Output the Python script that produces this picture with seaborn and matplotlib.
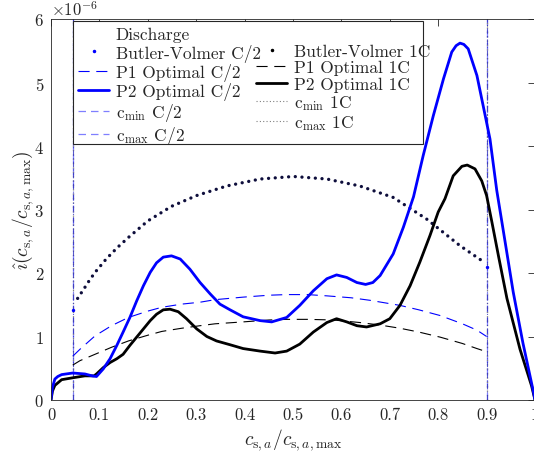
import numpy as np
import pandas as pd
import matplotlib
matplotlib.use('Agg')
import matplotlib.pyplot as plt
import seaborn as sns
from matplotlib.lines import Line2D
from matplotlib.patches import Rectangle
from matplotlib.ticker import FuncFormatter

# ---------------- data (values in units of 1e-6) ----------------
p2_half_x = [0, 0.003, 0.008, 0.014, 0.022, 0.045, 0.07, 0.085, 0.094, 0.108, 0.122, 0.136,
             0.149, 0.163, 0.177, 0.191, 0.205, 0.218, 0.232, 0.249, 0.267, 0.287, 0.308,
             0.329, 0.349, 0.370, 0.397, 0.432, 0.456, 0.487, 0.514, 0.542, 0.57, 0.59,
             0.611, 0.632, 0.65, 0.665, 0.68, 0.707, 0.728, 0.749, 0.769, 0.79, 0.811,
             0.828, 0.837, 0.845, 0.853, 0.862, 0.88, 0.893, 0.907, 0.921, 0.934, 0.955,
             0.975, 0.997, 1.0]
p2_half_y = [0, 0.2, 0.33, 0.37, 0.40, 0.425, 0.41, 0.38, 0.37, 0.49, 0.65, 0.86,
             1.07, 1.30, 1.56, 1.80, 2.01, 2.16, 2.25, 2.27, 2.22, 2.06, 1.85,
             1.67, 1.51, 1.42, 1.31, 1.25, 1.23, 1.30, 1.49, 1.72, 1.91, 1.97,
             1.93, 1.85, 1.82, 1.85, 1.96, 2.30, 2.72, 3.20, 3.85, 4.48, 5.06,
             5.48, 5.58, 5.62, 5.60, 5.53, 5.11, 4.63, 4.11, 3.30, 2.69, 1.70,
             0.90, 0.12, 0]

p2_one_x = [0, 0.003, 0.008, 0.022, 0.045, 0.07, 0.089, 0.094, 0.108, 0.122, 0.136, 0.149,
            0.163, 0.177, 0.191, 0.205, 0.218, 0.232, 0.246, 0.263, 0.28, 0.301, 0.322,
            0.342, 0.37, 0.397, 0.432, 0.463, 0.487, 0.514, 0.542, 0.57, 0.59, 0.611,
            0.632, 0.652, 0.68, 0.70, 0.721, 0.742, 0.762, 0.783, 0.80, 0.814, 0.831,
            0.849, 0.86, 0.876, 0.89, 0.90, 0.911, 0.925, 0.942, 0.969, 0.993, 1.0]
p2_one_y = [0, 0.14, 0.23, 0.32, 0.35, 0.38, 0.38, 0.41, 0.51, 0.59, 0.65, 0.72,
            0.86, 0.99, 1.12, 1.25, 1.35, 1.42, 1.43, 1.39, 1.28, 1.12, 1.00,
            0.93, 0.87, 0.81, 0.77, 0.74, 0.77, 0.88, 1.07, 1.22, 1.28, 1.23,
            1.17, 1.15, 1.20, 1.28, 1.49, 1.80, 2.17, 2.59, 2.96, 3.17, 3.53,
            3.68, 3.70, 3.64, 3.45, 3.22, 2.80, 2.25, 1.60, 0.80, 0.22, 0]

p1_half_x = [0.045, 0.06, 0.091, 0.125, 0.16, 0.2, 0.229, 0.27, 0.308, 0.339, 0.397, 0.45,
             0.487, 0.53, 0.57, 0.62, 0.659, 0.721, 0.76, 0.804, 0.85, 0.88, 0.9]
p1_half_y = [0.69, 0.80, 1.01, 1.17, 1.30, 1.40, 1.46, 1.51, 1.54, 1.58, 1.62, 1.65,
             1.66, 1.66, 1.64, 1.61, 1.57, 1.49, 1.42, 1.33, 1.20, 1.10, 1.00]

p1_one_x = [0.045, 0.06, 0.091, 0.125, 0.16, 0.2, 0.229, 0.27, 0.308, 0.339, 0.397, 0.45,
            0.487, 0.53, 0.583, 0.638, 0.68, 0.721, 0.76, 0.804, 0.85, 0.88, 0.9]
p1_one_y = [0.55, 0.62, 0.72, 0.83, 0.93, 1.02, 1.08, 1.13, 1.17, 1.20, 1.23, 1.26,
            1.27, 1.27, 1.26, 1.22, 1.18, 1.13, 1.07, 0.99, 0.89, 0.81, 0.76]

bv_one_x = [0.055, 0.068, 0.079, 0.091, 0.114, 0.137, 0.16, 0.2, 0.249, 0.301, 0.363,
            0.432, 0.501, 0.57, 0.638, 0.707, 0.776, 0.845, 0.893]
bv_one_y = [1.60, 1.75, 1.88, 2.01, 2.22, 2.40, 2.56, 2.82, 3.05, 3.22, 3.37,
            3.48, 3.52, 3.48, 3.37, 3.19, 2.85, 2.43, 2.18]

bv_half_x = [0.045, 0.9]
bv_half_y = [1.42, 2.09]

c_min = 0.045
c_max = 0.9

x_ticks = [0, 0.1, 0.2, 0.3, 0.4, 0.5, 0.6, 0.7, 0.8, 0.9, 1.0]
y_ticks = [0, 1, 2, 3, 4, 5, 6]
SCALE = 1e-6

legend_left = ['Discharge', 'Butler-Volmer C/2', 'P1 Optimal C/2', 'P2 Optimal C/2',
               r'c$_{\mathrm{min}}$ C/2', r'c$_{\mathrm{max}}$ C/2']
legend_right = [' ', 'Butler-Volmer 1C', 'P1 Optimal 1C', 'P2 Optimal 1C',
                r'c$_{\mathrm{min}}$ 1C', r'c$_{\mathrm{max}}$ 1C']

# ---------------- style ----------------
sns.set_style('white')
plt.rcParams.update({
    'font.family': 'serif',
    'font.serif': ['cmr10'],
    'mathtext.fontset': 'cm',
    'axes.formatter.use_mathtext': True,
})

W, H = 534, 460
fig = plt.figure(figsize=(W / 100, H / 100), dpi=100)
ax = fig.add_axes([51 / W, 59 / H, 484 / W, 381 / H])

BLUE = '#0000ff'
LIGHTBLUE = '#7f7fff'
DOTGRAY = '#808080'
NAVY = '#0e0e3c'


def line(xs, ys, color, lw, dashes=None, cap='butt'):
    df = pd.DataFrame({'x': xs, 'y': np.array(ys) * SCALE})
    sns.lineplot(data=df, x='x', y='y', ax=ax, color=color, linewidth=lw,
                 estimator=None, sort=False)
    ln = ax.lines[-1]
    if dashes is not None:
        ln.set_dashes(dashes)
    ln.set_dash_capstyle(cap)
    ln.set_solid_joinstyle('round')
    return ln

# vertical c_min / c_max lines
for xv in (c_min, c_max):
    ax.axvline(xv, color=LIGHTBLUE, lw=0.9, dashes=(6, 4))
    ax.axvline(xv, color=DOTGRAY, lw=0.9, dashes=(1, 2.5))
for xv in (c_min, c_max):
    ax.axvline(xv, color='#3030c0', lw=0.8, dashes=(5, 2, 1, 2), alpha=0.8)

line(p1_half_x, p1_half_y, BLUE, 0.8, dashes=(10, 6))
line(p1_one_x, p1_one_y, 'black', 0.8, dashes=(10, 6))
line(bv_one_x, bv_one_y, NAVY, 2.4, dashes=(0.01, 2.0), cap='round')
line(p2_one_x, p2_one_y, 'black', 2.0)
line(p2_half_x, p2_half_y, BLUE, 2.0)

bvh = pd.DataFrame({'x': bv_half_x, 'y': np.array(bv_half_y) * SCALE})
sns.scatterplot(data=bvh, x='x', y='y', ax=ax, color=BLUE, s=6, linewidth=0, zorder=5)

# ---------------- axes ----------------
ax.set_xlim(0, 1)
ax.set_ylim(0, 6 * SCALE)
ax.set_xticks(x_ticks)
ax.set_yticks([v * SCALE for v in y_ticks])
ax.xaxis.set_major_formatter(FuncFormatter(lambda v, p: '%g' % round(v, 3)))
ax.ticklabel_format(axis='y', style='sci', scilimits=(0, 0), useMathText=True)
ax.tick_params(direction='in', top=True, right=True, length=5, width=0.6,
               color='#262626', labelcolor='#262626', labelsize=12, pad=5)
ax.yaxis.get_offset_text().set_fontsize(12)
ax.yaxis.get_offset_text().set_color('#262626')
for s in ax.spines.values():
    s.set_color('#262626')
    s.set_linewidth(0.6)

ax.set_xlabel(r'$c_{\mathrm{s},a}/c_{\mathrm{s},a,\mathrm{max}}$', fontsize=14,
              color='#262626', labelpad=3)
ax.set_ylabel(r'$\hat{\imath}(c_{\mathrm{s},a}/c_{\mathrm{s},a,\mathrm{max}})$', fontsize=14,
              color='#262626', labelpad=-1)

# ---------------- legend (two columns inside one frame) ----------------
blank = Line2D([], [], linestyle='none')
h_left = [
    blank,
    Line2D([], [], color=BLUE, marker='.', markersize=3, linestyle='none'),
    Line2D([], [], color=BLUE, lw=0.8, dashes=(10, 6)),
    Line2D([], [], color=BLUE, lw=2.0),
    Line2D([], [], color=LIGHTBLUE, lw=0.9, dashes=(6, 4)),
    Line2D([], [], color=LIGHTBLUE, lw=0.9, dashes=(6, 4)),
]
h_right = [
    blank,
    Line2D([], [], color='black', marker='.', markersize=3, linestyle='none'),
    Line2D([], [], color='black', lw=0.8, dashes=(10, 6)),
    Line2D([], [], color='black', lw=2.0),
    Line2D([], [], color=DOTGRAY, lw=0.8, dashes=(1, 2)),
    Line2D([], [], color=DOTGRAY, lw=0.8, dashes=(1, 2)),
]

frame = Rectangle((73 / W, 1 - 145 / H), 350 / W, 123 / H, transform=fig.transFigure,
                  facecolor='white', edgecolor='#262626', linewidth=0.8, zorder=4)
fig.add_artist(frame)

common = dict(loc='upper left', bbox_transform=fig.transFigure, borderpad=0,
              borderaxespad=0, fontsize=12.5, frameon=False, handlelength=1.8,
              handletextpad=0.38, labelspacing=0.07)
leg1 = fig.legend(h_left, legend_left, bbox_to_anchor=(78 / W, 1 - 28 / H), **common)
leg2 = fig.legend(h_right, legend_right, bbox_to_anchor=(256 / W, 1 - 28 / H), **common)
for lg in (leg1, leg2):
    lg.set_zorder(6)
    for t in lg.get_texts():
        t.set_color('#262626')

fig.savefig('out.png', dpi=100)
